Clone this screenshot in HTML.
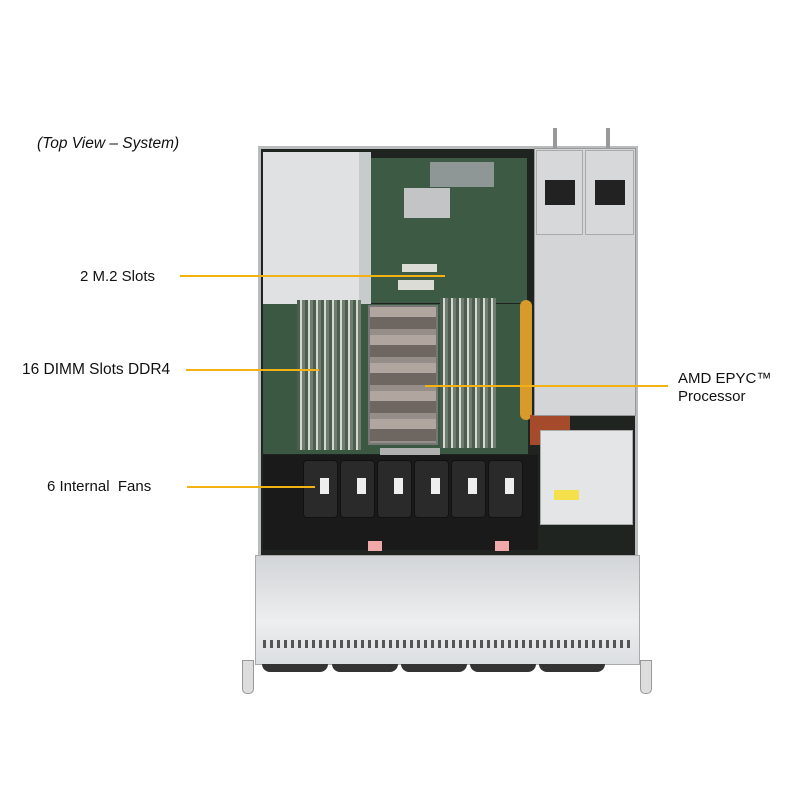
<!DOCTYPE html>
<html><head><style>
body{margin:0;width:800px;height:800px;background:#fff;position:relative;overflow:hidden;font-family:"Liberation Sans",sans-serif;}
div{position:absolute;box-sizing:border-box;}
.t{font-size:15px;color:#111;white-space:nowrap;}
.l{height:2px;background:#f2b213;}
.dimm{background:repeating-linear-gradient(90deg,#4d5e4f 0 3px,#d3d8d2 3px 5px,#6f7d70 5px 8px);}
.fan{background:#2a2a2a;border:1px solid #111;border-radius:4px;}
.lab{background:#eee;width:9px;height:16px;}
</style></head><body>
<div class="t" style="left:37px;top:135px;font-style:italic;font-size:15.5px;">(Top View – System)</div>

<div style="left:258px;top:146px;width:380px;height:412px;background:#1f2420;border:3px solid #b9bcbc;"></div>
<div style="left:263px;top:152px;width:96px;height:152px;background:#dfe1e2;"></div>
<div style="left:359px;top:152px;width:12px;height:160px;background:#c8cbcc;"></div>
<div style="left:371px;top:158px;width:156px;height:145px;background:#3d5a45;"></div>
<div style="left:404px;top:188px;width:46px;height:30px;background:#c2c4c6;"></div>
<div style="left:430px;top:162px;width:64px;height:25px;background:#8f9796;"></div>
<div style="left:398px;top:280px;width:36px;height:10px;background:#dcdcd6;"></div>
<div style="left:402px;top:264px;width:35px;height:8px;background:#dcdcd6;"></div>
<div style="left:263px;top:304px;width:265px;height:150px;background:#3a5842;"></div>
<div class="dimm" style="left:297px;top:300px;width:64px;height:150px;"></div>
<div class="dimm" style="left:440px;top:298px;width:56px;height:150px;"></div>
<div style="left:368px;top:305px;width:70px;height:140px;background:repeating-linear-gradient(180deg,#b0a69f 0 10px,#6e6661 10px 22px,#958d87 22px 28px);border:2px solid #777;"></div>
<div style="left:380px;top:448px;width:60px;height:8px;background:#b0b0b0;"></div>
<div style="left:263px;top:455px;width:275px;height:95px;background:#1a1a1a;"></div>
<div class="fan" style="left:303px;top:460px;width:35px;height:58px;"></div>
<div class="fan" style="left:340px;top:460px;width:35px;height:58px;"></div>
<div class="fan" style="left:377px;top:460px;width:35px;height:58px;"></div>
<div class="fan" style="left:414px;top:460px;width:35px;height:58px;"></div>
<div class="fan" style="left:451px;top:460px;width:35px;height:58px;"></div>
<div class="fan" style="left:488px;top:460px;width:35px;height:58px;"></div>
<div class="lab" style="left:320px;top:478px;"></div><div class="lab" style="left:357px;top:478px;"></div><div class="lab" style="left:394px;top:478px;"></div><div class="lab" style="left:431px;top:478px;"></div><div class="lab" style="left:468px;top:478px;"></div><div class="lab" style="left:505px;top:478px;"></div>
<div style="left:368px;top:541px;width:14px;height:10px;background:#f0a8a8;"></div>
<div style="left:495px;top:541px;width:14px;height:10px;background:#f0a8a8;"></div>
<div style="left:520px;top:300px;width:12px;height:120px;background:#d79a2b;border-radius:6px;"></div>
<div style="left:530px;top:415px;width:40px;height:30px;background:#a54a2b;"></div>
<div style="left:534px;top:148px;width:102px;height:268px;background:#d3d5d7;border:1px solid #999;"></div>
<div style="left:536px;top:150px;width:47px;height:85px;background:#d6d8d9;border:1px solid #aaa;"></div>
<div style="left:585px;top:150px;width:49px;height:85px;background:#d6d8d9;border:1px solid #aaa;"></div>
<div style="left:545px;top:180px;width:30px;height:25px;background:#222;"></div>
<div style="left:595px;top:180px;width:30px;height:25px;background:#222;"></div>
<div style="left:553px;top:128px;width:4px;height:20px;background:#999;"></div>
<div style="left:606px;top:128px;width:4px;height:20px;background:#999;"></div>
<div style="left:540px;top:430px;width:93px;height:95px;background:#e4e5e6;border:1px solid #aaa;"></div>
<div style="left:554px;top:490px;width:25px;height:10px;background:#f3e04a;"></div>
<div style="left:255px;top:555px;width:385px;height:110px;background:linear-gradient(180deg,#d2d5d7,#eceeef 60%,#dcdfe1);border:1px solid #aaa;"></div>
<div style="left:263px;top:640px;width:370px;height:8px;background:repeating-linear-gradient(90deg,#555 0 3px,transparent 3px 7px);"></div>
<div style="left:262px;top:664px;width:66px;height:8px;background:#333;border-radius:0 0 30px 30px;"></div>
<div style="left:332px;top:664px;width:66px;height:8px;background:#333;border-radius:0 0 30px 30px;"></div>
<div style="left:401px;top:664px;width:66px;height:8px;background:#333;border-radius:0 0 30px 30px;"></div>
<div style="left:470px;top:664px;width:66px;height:8px;background:#333;border-radius:0 0 30px 30px;"></div>
<div style="left:539px;top:664px;width:66px;height:8px;background:#333;border-radius:0 0 30px 30px;"></div>
<div style="left:242px;top:660px;width:12px;height:34px;background:#ddd;border:1px solid #999;border-radius:0 0 5px 5px;"></div>
<div style="left:640px;top:660px;width:12px;height:34px;background:#ddd;border:1px solid #999;border-radius:0 0 5px 5px;"></div>

<div class="t" style="left:80px;top:268px;">2 M.2 Slots</div>
<div class="l" style="left:180px;top:275px;width:265px;"></div>
<div class="t" style="left:22px;top:361px;font-size:15.5px;">16 DIMM Slots DDR4</div>
<div class="l" style="left:186px;top:369px;width:133px;"></div>
<div class="t" style="left:47px;top:478px;">6 Internal&nbsp; Fans</div>
<div class="l" style="left:187px;top:486px;width:128px;"></div>
<div class="l" style="left:425px;top:385px;width:243px;"></div>
<div class="t" style="left:678px;top:370px;line-height:18px;">AMD EPYC™<br>Processor</div>
</body></html>
